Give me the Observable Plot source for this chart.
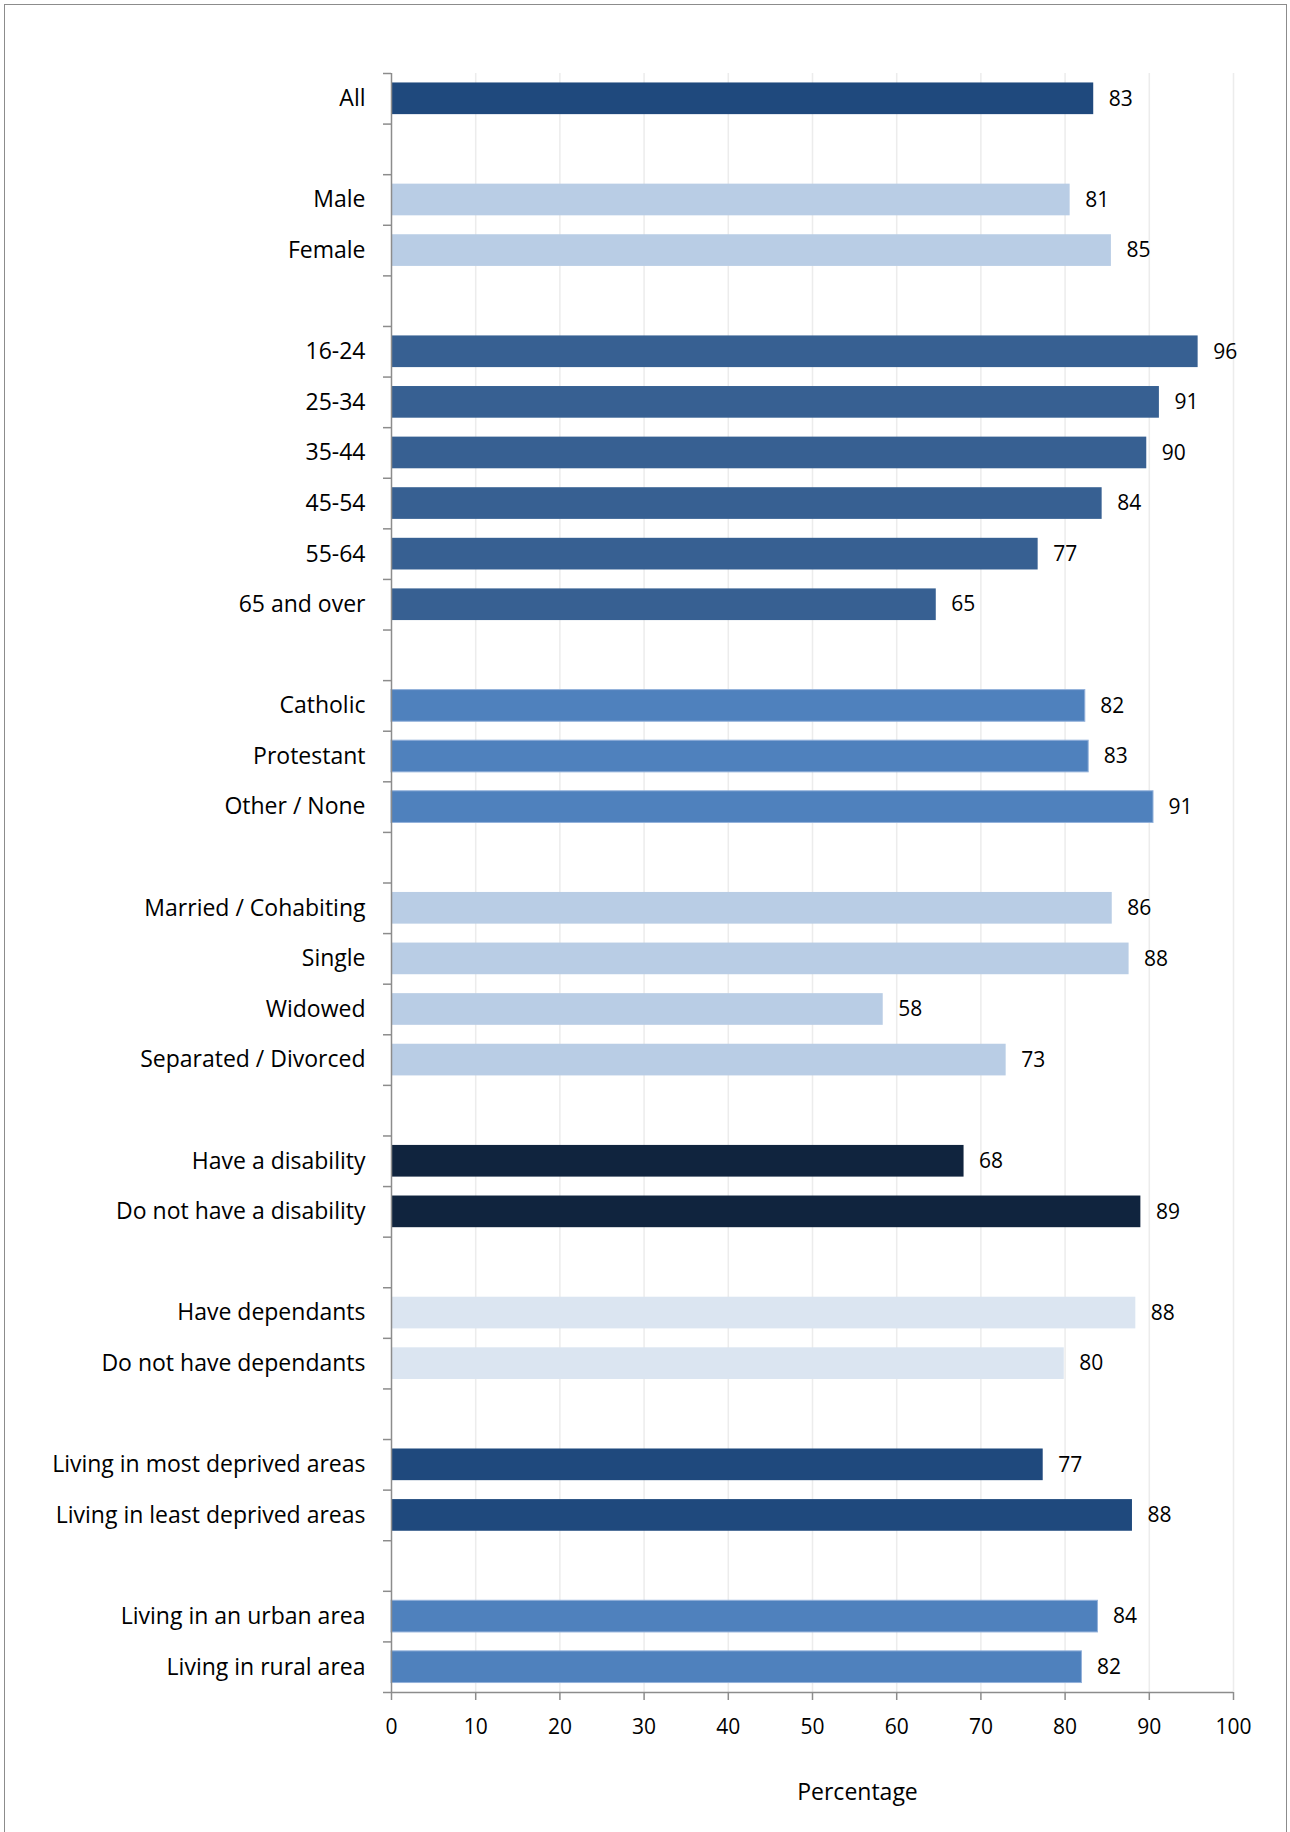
<!DOCTYPE html>
<html>
<head>
<meta charset="utf-8">
<script src="https://cdn.jsdelivr.net/npm/d3@7"></script>
<script src="https://cdn.jsdelivr.net/npm/@observablehq/plot@0.6"></script>
<style>
  html, body { margin: 0; padding: 0; background: #ffffff; overflow: hidden; }
  #wrap { position: relative; width: 1290px; height: 1832px; }
  #border { position: absolute; left: 4px; top: 4px; width: 1283px; height: 1900px;
            border: 1.5px solid #8c8c8c; box-sizing: border-box; pointer-events: none; }
</style>
</head>
<body>
<div id="wrap"><div id="border"></div></div>
<script>
// ---- Data ----
const categories = [
  "All",
  "Male", "Female",
  "16-24", "25-34", "35-44", "45-54", "55-64", "65 and over",
  "Catholic", "Protestant", "Other / None",
  "Married / Cohabiting", "Single", "Widowed", "Separated / Divorced",
  "Have a disability", "Do not have a disability",
  "Have dependants", "Do not have dependants",
  "Living in most deprived areas", "Living in least deprived areas",
  "Living in an urban area", "Living in rural area"
];
// bar lengths
const values = [
  83.4,
  80.6, 85.5,
  95.8, 91.2, 89.7, 84.4, 76.8, 64.7,
  82.4, 82.8, 90.5,
  85.6, 87.6, 58.4, 73.0,
  68.0, 89.0,
  88.4, 79.9,
  77.4, 88.0,
  83.9, 82.0
];
// printed labels
const valueLabels = [
  "83",
  "81", "85",
  "96", "91", "90", "84", "77", "65",
  "82", "83", "91",
  "86", "88", "58", "73",
  "68", "89",
  "88", "80",
  "77", "88",
  "84", "82"
];
const groups = [
  "all",
  "sex", "sex",
  "age", "age", "age", "age", "age", "age",
  "religion", "religion", "religion",
  "marital", "marital", "marital", "marital",
  "disability", "disability",
  "dependants", "dependants",
  "deprivation", "deprivation",
  "area", "area"
];
const groupNames = ["all", "sex", "age", "religion", "marital", "disability", "dependants", "deprivation", "area"];
const groupColors = ["#1f497d", "#b9cde5", "#376092", "#4f81bd", "#b9cde5", "#10243e", "#dbe5f1", "#1f497d", "#4f81bd"];
const groupStrokes = ["none", "none", "none", "#93b1da", "none", "none", "none", "none", "#93b1da"];
const xTicks = [0, 10, 20, 30, 40, 50, 60, 70, 80, 90, 100];

// ---- Build rows with a blank slot between groups ----
const rows = [];
let slot = 0;
categories.forEach((c, i) => {
  if (i > 0 && groups[i] !== groups[i - 1]) slot += 1; // empty slot
  const gi = groupNames.indexOf(groups[i]);
  rows.push({label: c, value: values[i], text: valueLabels[i], pos: slot, fill: groupColors[gi], stroke: groupStrokes[gi]});
  slot += 1;
});
const nSlots = slot; // 32

const FONT = "'Open Sans', sans-serif";
const FS = 21;   // numbers
const FL = 23;   // category labels and title
const inset = 0.187;

const chart = Plot.plot({
  width: 1290,
  height: 1832,
  marginLeft: 391,
  marginRight: 57,
  marginTop: 73,
  marginBottom: 140,
  style: {fontFamily: FONT, fontSize: FS + "px", color: "#000", background: "transparent"},
  x: {domain: [0, 100]},
  y: {domain: [0, nSlots], reverse: true},
  marks: [
    // gridlines
    Plot.ruleX(xTicks.slice(1), {stroke: "#ececec", strokeWidth: 1.5}),
    // bars
    Plot.rectX(rows, {
      x1: 0, x2: "value",
      y1: d => d.pos + inset, y2: d => d.pos + 1 - inset,
      fill: "fill", stroke: "stroke", strokeWidth: 1
    }),
    // axis lines
    Plot.ruleX([0], {stroke: "#8c8c8c", strokeWidth: 1.5}),
    Plot.ruleY([nSlots], {stroke: "#8c8c8c", strokeWidth: 1.5}),
    // y boundary ticks
    Plot.axisY(d3.range(nSlots + 1), {tickSize: 8, tickFormat: () => "", stroke: "#8c8c8c", strokeWidth: 1.5, label: null}),
    // x axis
    Plot.axisX(xTicks, {tickSize: 8, tickPadding: 19, stroke: "#8c8c8c", strokeWidth: 1.5, label: null,
      fontSize: FS, fill: "#000"}),
    // category labels
    Plot.text(rows, {x: 0, y: d => d.pos + 0.5, text: "label", textAnchor: "end", dx: -26,
      fontSize: FL, fill: "#000"}),
    // value labels
    Plot.text(rows, {x: "value", y: d => d.pos + 0.5, text: "text", textAnchor: "start", dx: 15,
      fontSize: FS, fill: "#000"}),
    // axis title
    Plot.text(["Percentage"], {frameAnchor: "bottom", dy: 100, dx: 45, textAnchor: "middle", lineAnchor: "middle",
      fontSize: FL, fill: "#000"})
  ]
});
document.getElementById("wrap").prepend(chart);
</script>
</body>
</html>
